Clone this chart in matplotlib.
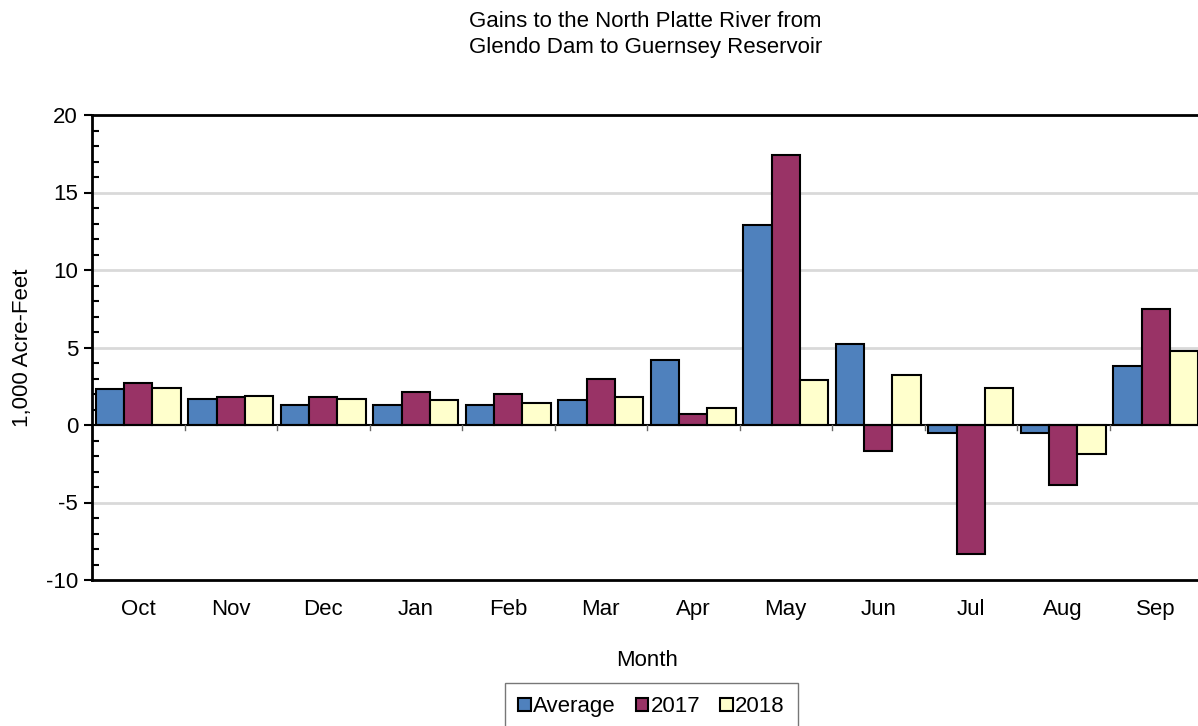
import numpy as np
import matplotlib.pyplot as plt
from matplotlib.patches import Patch
from matplotlib.ticker import MultipleLocator

plt.rcParams['font.family'] = ['Liberation Sans', 'DejaVu Sans']
plt.rcParams['axes.unicode_minus'] = False

months = ["Oct", "Nov", "Dec", "Jan", "Feb", "Mar", "Apr", "May", "Jun", "Jul", "Aug", "Sep"]
average = [2.3, 1.7, 1.3, 1.3, 1.3, 1.6, 4.2, 12.9, 5.2, -0.5, -0.5, 3.8]
y2017 = [2.7, 1.8, 1.8, 2.1, 2.0, 3.0, 0.7, 17.4, -1.7, -8.3, -3.9, 7.5]
y2018 = [2.4, 1.9, 1.7, 1.6, 1.4, 1.8, 1.1, 2.9, 3.2, 2.4, -1.9, 4.8]

series = [("Average", average, "#4f81bd"),
          ("2017", y2017, "#993366"),
          ("2018", y2018, "#ffffcc")]

fs = 16

fig = plt.figure(figsize=(11.98, 7.26), dpi=100)
ax = fig.add_axes([92/1198, 1 - 580/726, 1110/1198, 465/726])

x = np.arange(len(months))
w = 0.305
for i, (name, vals, col) in enumerate(series):
    ax.bar(x + (i - 1) * w, vals, w, color=col, edgecolor="black", linewidth=1.5, zorder=3)

ax.set_xlim(-0.5, len(months) - 0.5)
ax.set_ylim(-10, 20)
ax.yaxis.set_major_locator(MultipleLocator(5))
ax.yaxis.set_minor_locator(MultipleLocator(1))
ax.tick_params(axis='y', which='major', direction='out', length=6, width=1.5, labelsize=fs, pad=4)
ax.tick_params(axis='y', which='minor', direction='in', length=5, width=1.5)
ax.set_xticks(x)
ax.set_xticklabels(months)
ax.tick_params(axis='x', which='major', length=0, labelsize=fs, pad=14)

for yv in [-5, 5, 10, 15]:
    ax.axhline(yv, color="#d9d9d9", linewidth=2, zorder=1)
ax.axhline(0, color="black", linewidth=1.5, zorder=4)
# small tick marks between categories on the zero line
for b in np.arange(0.5, len(months) - 0.5, 1):
    ax.plot([b, b], [0, -0.35], color="#666666", linewidth=1, zorder=4)

for s in ["left", "bottom", "top"]:
    ax.spines[s].set_linewidth(2)
ax.spines["right"].set_visible(False)

ax.set_xlabel("Month", fontsize=fs, labelpad=21)
ax.set_ylabel("1,000 Acre-Feet", fontsize=fs, labelpad=9)

fig.text(0.539, 0.985, "Gains to the North Platte River from\nGlendo Dam to Guernsey Reservoir",
         ha="center", va="top", fontsize=fs, linespacing=1.35)

handles = [Patch(facecolor=c, edgecolor="black", linewidth=1.5, label=n) for n, v, c in series]
leg = fig.legend(handles=handles, loc="upper center", bbox_to_anchor=(0.544, 1 - 683/726), ncol=3,
                 fontsize=fs, frameon=True, fancybox=False, handlelength=0.55, handleheight=0.55,
                 handletextpad=0.12, columnspacing=0.9, borderpad=0.6, borderaxespad=0)
leg.get_frame().set_edgecolor("#555555")
leg.get_frame().set_linewidth(1)

fig.savefig("out.png", dpi=100)
